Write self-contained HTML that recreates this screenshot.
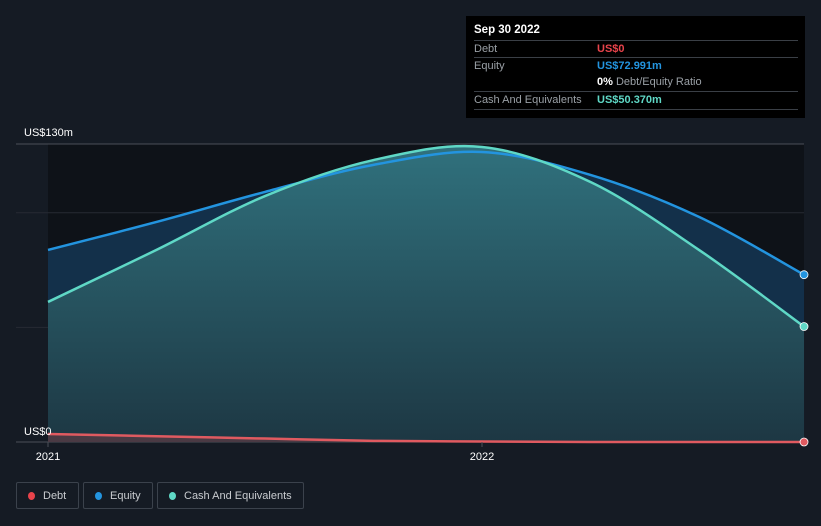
<!DOCTYPE html>
<html><head><meta charset="utf-8"><style>
body{margin:0;background:#151b24;font-family:"Liberation Sans",sans-serif;}
#wrap{position:relative;width:821px;height:526px;overflow:hidden;background:#151b24;}
svg{position:absolute;left:0;top:0}
.tip{position:absolute;left:466px;top:16px;width:339px;height:102px;background:#000;color:#fff;font-size:11px}
.row{position:absolute;left:8px;width:324px;border-top:1px solid #3a3f46;height:17px;line-height:17px;color:#9aa0a6}
.legend{position:absolute;top:482px;height:27px;border:1px solid #3b424c;border-radius:2px;color:#c9ccd0;font-size:11px;line-height:27px;box-sizing:border-box}
.dot{display:inline-block;width:7px;height:8px;border-radius:50%;margin:0 8px 0 11px;vertical-align:-1px}
</style></head><body>
<div id="wrap">
<svg id="chart" width="821" height="526"></svg>
<div class="tip">
  <div style="position:absolute;left:8px;top:8px;font-weight:bold;font-size:11.5px">Sep 30 2022</div>
  <div class="row" style="top:24px">Debt<span style="position:absolute;left:123px;color:#e8434b;font-weight:bold">US$0</span></div>
  <div class="row" style="top:41px">Equity<span style="position:absolute;left:123px;color:#2394df;font-weight:bold">US$72.991m</span></div>
  <div class="row" style="top:58px;border-top:none"><span style="position:absolute;left:123px"><b style="color:#fff">0%</b> Debt/Equity Ratio</span></div>
  <div class="row" style="top:75px;border-bottom:1px solid #3a3f46">Cash And Equivalents<span style="position:absolute;left:123px;color:#5fd8c6;font-weight:bold">US$50.370m</span></div>
</div>
<div class="legend" style="left:16px;width:63px"><span class="dot" style="background:#e8434b"></span>Debt</div>
<div class="legend" style="left:83px;width:70px"><span class="dot" style="background:#2394df"></span>Equity</div>
<div class="legend" style="left:157px;width:147px"><span class="dot" style="background:#5fd8c6"></span>Cash And Equivalents</div>
</div>
<script>
const times=[0,0.25,0.5,0.75,1.0,1.25,1.5,1.742];
const equity=[83.8,96.0,109.1,120.9,126.5,116.5,98.2,72.991];
const cash=[61.1,83.8,107.3,123.0,128.7,113.4,83.8,50.37];
const debt=[3.5,2.5,1.5,0.5,0.2,0,0,0];
const yTicks=[0,50,100,130];
const yLabels=["US$0","US$130m"];
const xTicks=[0,1];
const xLabels=["2021","2022"];
const NS="http://www.w3.org/2000/svg";
const svg=document.getElementById('chart');
const X=t=>48+t*434, Y=v=>442-v*(298/130);
function mk(tag,attrs){const e=document.createElementNS(NS,tag);for(const k in attrs)e.setAttribute(k,attrs[k]);svg.appendChild(e);return e;}
function curve(vals){const p=vals.map((v,i)=>[X(times[i]),Y(v)]);let d=`M${p[0][0]},${p[0][1]}`;
for(let i=0;i<p.length-1;i++){const p0=p[i-1]||p[i],p1=p[i],p2=p[i+1],p3=p[i+2]||p2;
d+=` C${p1[0]+(p2[0]-p0[0])/6},${p1[1]+(p2[1]-p0[1])/6} ${p2[0]-(p3[0]-p1[0])/6},${p2[1]-(p3[1]-p1[1])/6} ${p2[0]},${p2[1]}`;}return d;}
const defs=mk('defs',{});
defs.innerHTML='<linearGradient id="cg" x1="0" y1="0" x2="0" y2="1"><stop offset="0" stop-color="#30717d"/><stop offset="1" stop-color="#1d3743"/></linearGradient>';
const bg=mk('rect',{x:48,y:144,width:756,height:298,fill:'#0e1218'});

yTicks.forEach(v=>{const l=mk('line',{x1:16,x2:804,y1:Y(v),y2:Y(v),stroke:v==0||v==130?'#4a4f57':'#262b33','stroke-width':1});
});
const xe=X(times[times.length-1]),xs=X(times[0]);
const ea=mk('path',{d:curve(equity)+` L${xe},${Y(0)} L${xs},${Y(0)}Z`,fill:'#13304a'});

const ca=mk('path',{d:curve(cash)+` L${xe},${Y(0)} L${xs},${Y(0)}Z`,fill:'url(#cg)'});

const da=mk('path',{d:curve(debt)+` L${xe},${Y(0)} L${xs},${Y(0)}Z`,fill:'#4a3a44'});

[[equity,'#2394df','equity-line'],[cash,'#5fd8c6','cash-line'],[debt,'#e05a60','debt-line']].forEach(([v,c,n])=>{
const l=mk('path',{d:curve(v),fill:'none',stroke:c,'stroke-width':2.5});

const d=mk('circle',{cx:xe,cy:Y(v[v.length-1]),r:4,fill:c,stroke:'#fff','stroke-width':0.8});
});
[[130,yLabels[1],136],[0,yLabels[0],435]].forEach(([v,t,y])=>{const e=mk('text',{x:24,y:y,fill:'#fff','font-size':11,'font-family':'Liberation Sans, sans-serif'});e.textContent=t;
});
xTicks.forEach((t,i)=>{const e=mk('text',{x:X(t),y:460,fill:'#fff','font-size':11,'text-anchor':'middle','font-family':'Liberation Sans, sans-serif'});e.textContent=xLabels[i];

const tk=mk('line',{x1:X(t),x2:X(t),y1:442,y2:447,stroke:'#4a4f57'});});
</script>
</body></html>
